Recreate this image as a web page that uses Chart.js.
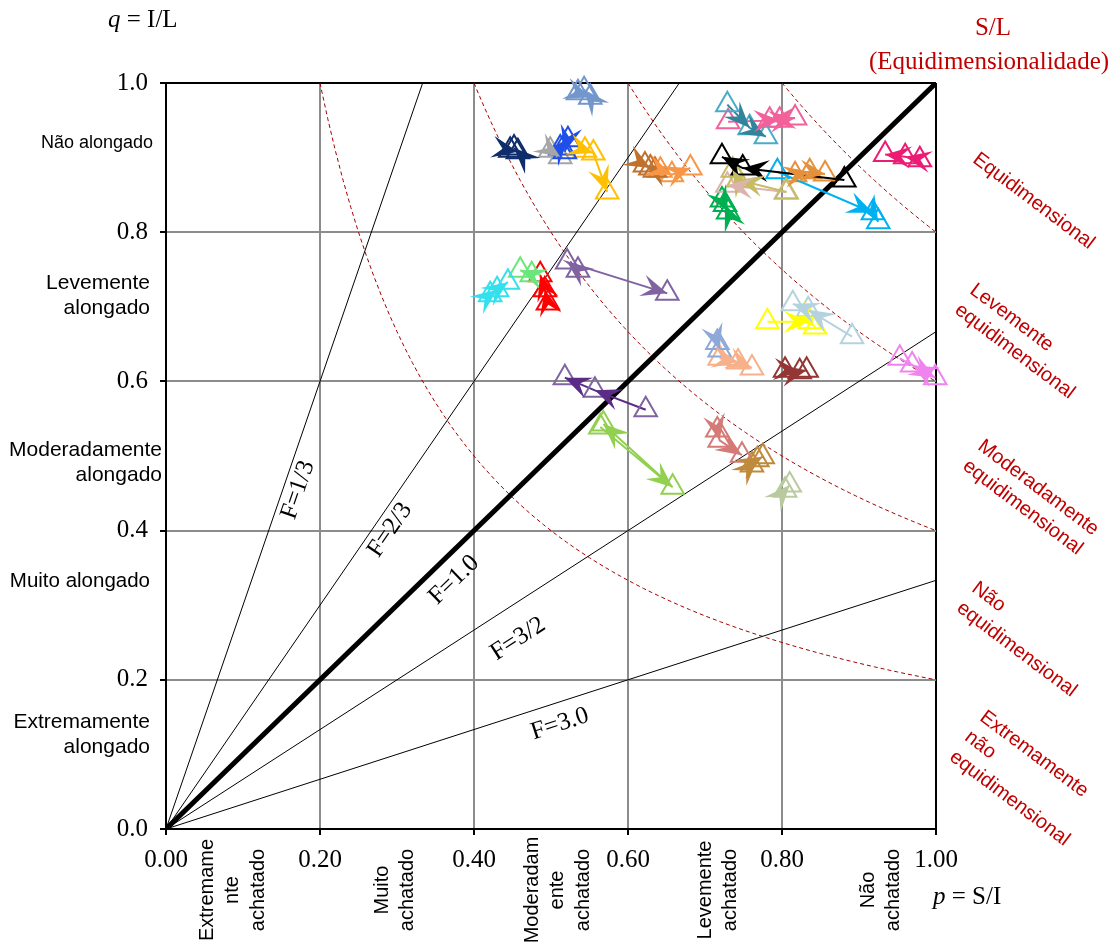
<!DOCTYPE html>
<html><head><meta charset="utf-8">
<script src="https://cdn.jsdelivr.net/npm/chart.js@4.4.0/dist/chart.umd.min.js"></script>
<style>html,body{margin:0;padding:0;background:#fff}#wrap{width:1116px;height:947px;position:relative}</style>
</head><body><div id="wrap"><canvas id="c"></canvas></div>
<script>
// ---- tick labels / classes ----
const xTickLabels = ['0.00','0.20','0.40','0.60','0.80','1.00'];
const yTickLabels = ['0.0','0.2','0.4','0.6','0.8','1.0'];
const fValues = [1/3, 2/3, 1, 3/2, 3];
const fLabels = ['F=1/3','F=2/3','F=1.0','F=3/2','F=3.0'];
const slValues = [0.2, 0.4, 0.6, 0.8];
const qClasses = [['Não alongado'],['Levemente','alongado'],['Moderadamente','alongado'],['Muito alongado'],['Extremamente','alongado']];
const pClasses = [['Extremame','nte','achatado'],['Muito','achatado'],['Moderadam','ente','achatado'],['Levemente','achatado'],['Não','achatado']];
const slClasses = [['Equidimensional'],['Levemente','equidimensional'],['Moderadamente','equidimensional'],['Não','equidimensional'],['Extremamente','não','equidimensional']];

// ---- series (p = S/I, q = I/L) ----
const s01 = [[0.447,0.910],[0.457,0.908],[0.452,0.913]];
const s02 = [[0.535,0.987],[0.551,0.981],[0.543,0.991]];
const s03 = [[0.512,0.913],[0.522,0.924],[0.518,0.908]];
const s04 = [[0.499,0.910],[0.512,0.901]];
const s05 = [[0.544,0.910],[0.555,0.906],[0.573,0.854]];
const s06 = [[0.635,0.883],[0.622,0.890],[0.629,0.886]];
const s07 = [[0.642,0.883],[0.657,0.877],[0.681,0.886]];
const s08 = [[0.729,0.971],[0.758,0.940],[0.779,0.928]];
const s09 = [[0.730,0.948],[0.797,0.950],[0.817,0.953],[0.784,0.950]];
const s10 = [[0.881,0.870],[0.749,0.886],[0.722,0.901]];
const s11 = [[0.806,0.854],[0.743,0.870],[0.736,0.883]];
const s12 = [[0.805,0.854],[0.729,0.863]];
const s13 = [[0.722,0.843],[0.730,0.827],[0.726,0.837]];
const s14 = [[0.794,0.881],[0.918,0.826],[0.925,0.814]];
const s15 = [[0.817,0.877],[0.836,0.881],[0.856,0.878]];
const s16 = [[0.979,0.897],[0.960,0.901],[0.934,0.904]];
const s17 = [[0.421,0.716],[0.430,0.723],[0.444,0.733]];
const s18 = [[0.475,0.743],[0.460,0.749]];
const s19 = [[0.496,0.705],[0.492,0.723],[0.486,0.743]];
const s20 = [[0.535,0.749],[0.521,0.760],[0.651,0.718]];
const s21 = [[0.781,0.680],[0.836,0.680],[0.843,0.673]];
const s22 = [[0.891,0.660],[0.834,0.696],[0.814,0.704]];
const s23 = [[0.716,0.652],[0.719,0.642]];
const s24 = [[0.719,0.631],[0.743,0.626],[0.761,0.618]];
const s25 = [[0.804,0.615],[0.823,0.613],[0.832,0.615]];
const s26 = [[0.953,0.631],[0.999,0.605],[0.969,0.622]];
const s27 = [[0.623,0.562],[0.557,0.588],[0.518,0.605]];
const s28 = [[0.564,0.539],[0.658,0.458],[0.568,0.543]];
const s29 = [[0.716,0.535],[0.719,0.521],[0.748,0.501]];
const s30 = [[0.761,0.488],[0.768,0.495],[0.775,0.499]];
const s31 = [[0.804,0.454],[0.810,0.461]];

const seriesList = [s01,s02,s03,s04,s05,s06,s07,s08,s09,s10,s11,s12,s13,s14,s15,s16,s17,s18,s19,s20,s21,s22,s23,s24,s25,s26,s27,s28,s29,s30,s31];
const lineColors = ['#0F2C6B','#7396CC','#1F4FE8','#A6A6A6','#FFC000','#C0712E','#F79646','#31849B','#F2619A','#000000',
  '#C4BD63','#DDB3AE','#00B050','#00B0F0','#E5913C','#EC1C74','#33E1EE','#6AE77A','#FF0000','#8064A2',
  '#FFFF00','#B4D3DE','#8EA9D8','#F7B08A','#943634','#F084EE','#5B2C86','#92D050','#D47B78','#BF8A3B','#B9CB9E'];
const markerColors = lineColors.map((c,i)=> i===7 ? '#4BACC6' : (i===26 ? '#8064A2' : c));

const datasets = [];
seriesList.forEach((s,i)=>{
  datasets.push({
    data: s.map(([x,y])=>({x,y})),
    showLine:true, borderColor: lineColors[i], borderWidth:2, tension:0,
    pointStyle:'triangle', pointRadius:13, pointHoverRadius:13, pointBorderWidth:2,
    pointBorderColor: markerColors[i], pointBackgroundColor:'rgba(0,0,0,0)',
    clip:false, order:0, arrows:true
  });
});
fValues.forEach(f=>{
  datasets.push({data:[{x:0,y:0},{x:Math.min(1,f),y:Math.min(1,1/f)}], showLine:true,
    borderColor:'#000', borderWidth: f===1?5:1, pointRadius:0, order:1});
});
slValues.forEach(c=>{
  const pts=[]; for(let k=0;k<=80;k++){const p=c+(1-c)*k/80; pts.push({x:p,y:c/p});}
  datasets.push({data:pts, showLine:true, borderColor:'#A00000', borderWidth:1, borderDash:[4,3], pointRadius:0, order:1});
});

function stealth(ctx, ax, ay, bx, by, color){
  const ang = Math.atan2(by-ay, bx-ax);
  const L=26, W=11;
  ctx.save(); ctx.translate(bx,by); ctx.rotate(ang);
  ctx.beginPath(); ctx.moveTo(0,0); ctx.lineTo(-L,-W); ctx.lineTo(-0.6*L,0); ctx.lineTo(-L,W); ctx.closePath();
  ctx.fillStyle=color; ctx.fill(); ctx.restore();
}
const arrowPlugin = {
  id:'arrows',
  afterDatasetsDraw(chart){
    const ctx=chart.ctx;
    chart.data.datasets.forEach((ds,i)=>{
      if(!ds.arrows) return;
      const pts=chart.getDatasetMeta(i).data;
      for(let k=1;k<pts.length;k++) stealth(ctx, pts[k-1].x, pts[k-1].y, pts[k].x, pts[k].y, ds.borderColor);
    });
  }
};
function mixed(ctx, parts, x, y){
  let cx=x;
  parts.forEach(([font,t])=>{ctx.font=font; ctx.textAlign='left'; ctx.fillText(t,cx,y); cx+=ctx.measureText(t).width;});
}
const SERIF='"Liberation Serif", "Times New Roman", serif';
const SANS='"Liberation Sans", Arial, sans-serif';
const labelPlugin = {
  id:'labels',
  afterDraw(chart){
    const ctx=chart.ctx; ctx.save();
    ctx.textBaseline='middle'; ctx.fillStyle='#000';
    mixed(ctx, [['italic 25px '+SERIF,'q'],['25px '+SERIF,' = I/L']], 108, 20);
    mixed(ctx, [['italic 25px '+SERIF,'p'],['25px '+SERIF,' = S/I']], 933, 897);
    ctx.fillStyle='#C00000'; ctx.font='25px '+SERIF; ctx.textAlign='center';
    ctx.fillText('S/L', 993, 28); ctx.fillText('(Equidimensionalidade)', 989, 62);
    // left classes
    ctx.fillStyle='#000'; ctx.textAlign='right';
    const qPos=[[153,143,18],[150,283,21],[162,450,21],[150,581,20.5],[150,722,21]];
    qClasses.forEach((lines,i)=>{ctx.font=qPos[i][2]+'px '+SANS;
      lines.forEach((t,j)=>ctx.fillText(t,qPos[i][0],qPos[i][1]+j*25));});
    // bottom classes
    ctx.font='20px '+SANS;
    const pPos=[207,382,532,705,868];
    ctx.textAlign='center';
    pClasses.forEach((lines,i)=>{ctx.save(); ctx.translate(pPos[i],890); ctx.rotate(-Math.PI/2);
      lines.forEach((t,j)=>ctx.fillText(t,0,j*25.5)); ctx.restore();});
    // right classes
    ctx.fillStyle='#C00000'; ctx.textAlign='left';
    const sPos=[[975,157],[972,288],[980,444],[974,586],[982,715]];
    slClasses.forEach((lines,i)=>{ctx.save(); ctx.translate(sPos[i][0],sPos[i][1]); ctx.rotate(37*Math.PI/180);
      lines.forEach((t,j)=>ctx.fillText(t,0,j*25)); ctx.restore();});
    // F labels
    ctx.fillStyle='#000'; ctx.font='25px '+SERIF; ctx.textAlign='center';
    const fPos=[[298,490,-71],[390,530,-55.5],[454,580,-44],[518,639,-33],[560,724,-18]];
    fLabels.forEach((t,i)=>{ctx.save(); ctx.translate(fPos[i][0],fPos[i][1]); ctx.rotate(fPos[i][2]*Math.PI/180); ctx.fillText(t,0,0); ctx.restore();});
    ctx.restore();
  }
};
const gridColor = c => (c.tick && (c.tick.value>0.999 || c.tick.value<0.001)) ? '#000' : '#8C8C8C';
new Chart(document.getElementById('c'), {
  type:'scatter',
  data:{datasets},
  options:{
    responsive:true, maintainAspectRatio:false, animation:false, events:[],
    layout:{padding:{left:0,right:180,top:83,bottom:0}},
    plugins:{legend:{display:false}, tooltip:{enabled:false}},
    scales:{
      x:{type:'linear', min:0, max:1,
        ticks:{stepSize:0.2, callback:v=>xTickLabels[Math.round(v*5)], font:{family:SERIF,size:25}, color:'#000', padding:10, maxRotation:0},
        grid:{color:gridColor, lineWidth:2, tickLength:6, tickColor:'#000'},
        border:{color:'#000', width:2},
        afterFit:s=>{s.height=118;}},
      y:{type:'linear', min:0, max:1,
        ticks:{stepSize:0.2, callback:v=>yTickLabels[Math.round(v*5)], font:{family:SERIF,size:25}, color:'#000', padding:12},
        grid:{color:gridColor, lineWidth:2, tickLength:6, tickColor:'#000'},
        border:{color:'#000', width:2},
        afterFit:s=>{s.width=166;}}
    }
  },
  plugins:[arrowPlugin,labelPlugin]
});
</script></body></html>
